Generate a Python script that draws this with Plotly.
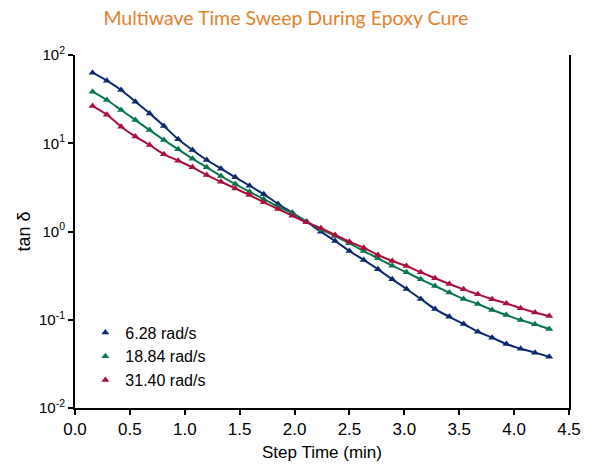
import plotly.graph_objects as go

time_min = [0.16, 0.29, 0.42, 0.55, 0.68, 0.81, 0.94, 1.07, 1.20, 1.33, 1.46,
            1.59, 1.72, 1.85, 1.98, 2.11, 2.24, 2.37, 2.50, 2.63, 2.76, 2.89,
            3.02, 3.15, 3.28, 3.41, 3.54, 3.67, 3.80, 3.93, 4.06, 4.19, 4.32]

tan_628 = [63, 51.2, 40.1, 29.6, 21.8, 15.7, 11.1, 8.39, 6.46, 5.15, 4.11,
           3.30, 2.64, 2.05, 1.63, 1.29, 0.995, 0.780, 0.601, 0.475, 0.373, 0.287,
           0.223, 0.172, 0.132, 0.108, 0.0895, 0.0732, 0.0626, 0.0531, 0.0470, 0.0424, 0.0381]
tan_1884 = [38.4, 30.9, 23.8, 18.3, 14.1, 10.9, 8.53, 6.68, 5.33, 4.25, 3.45,
            2.82, 2.32, 1.91, 1.61, 1.29, 1.06, 0.889, 0.735, 0.601, 0.497, 0.410,
            0.345, 0.287, 0.241, 0.203, 0.172, 0.151, 0.129, 0.113, 0.0993, 0.0888, 0.0785]
tan_3140 = [26.4, 21.1, 15.4, 11.9, 9.55, 7.5, 6.35, 5.33, 4.36, 3.66, 3.08,
            2.59, 2.14, 1.80, 1.51, 1.27, 1.09, 0.912, 0.766, 0.655, 0.542, 0.463,
            0.406, 0.345, 0.295, 0.254, 0.221, 0.194, 0.171, 0.153, 0.135, 0.121, 0.110]

series_names = ["6.28 rad/s", "18.84 rad/s", "31.40 rad/s"]
series_colors = ["#0c2a6e", "#0a7650", "#ad0f3b"]

y_tickvals = [0.01, 0.1, 1, 10, 100]
y_ticktext = ["10<sup>-2</sup>", "10<sup>-1</sup>", "10<sup>0</sup>", "10<sup>1</sup>", "10<sup>2</sup>"]
x_tickvals = [0.0, 0.5, 1.0, 1.5, 2.0, 2.5, 3.0, 3.5, 4.0, 4.5]

fig = go.Figure()
for name, ys, col in zip(series_names, [tan_628, tan_1884, tan_3140], series_colors):
    fig.add_trace(go.Scatter(x=time_min, y=ys, mode="lines", line=dict(color=col, width=2, shape="spline"),
                             showlegend=False, hoverinfo="skip"))
    fig.add_trace(go.Scatter(x=time_min, y=ys, mode="markers", name=name,
                             marker=dict(symbol="triangle-up", size=7, color=col)))

font_main = "Liberation Sans, Arial, sans-serif"
fig.update_layout(
    width=593, height=466,
    paper_bgcolor="white", plot_bgcolor="white",
    margin=dict(l=75, r=24, t=55, b=58),
    title=dict(text="Multiwave Time Sweep During Epoxy Cure", x=0.482, xanchor="center",
               y=0.962, yanchor="middle",
               font=dict(family="Lato, sans-serif", size=19.5, color="#e3822c")),
    font=dict(family=font_main, size=16, color="black"),
    xaxis=dict(range=[0, 4.5], tickvals=x_tickvals, tickformat=".1f", automargin=False,
               showline=True, linecolor="black", linewidth=2, mirror=False,
               ticks="outside", ticklen=5, tickwidth=1.5, tickcolor="black",
               showgrid=False, zeroline=False,
               title=dict(text="Step Time (min)", font=dict(size=17), standoff=8),
               tickfont=dict(size=17)),
    yaxis=dict(type="log", range=[-2, 2], tickvals=y_tickvals, ticktext=y_ticktext, automargin=False,
               showline=True, linecolor="black", linewidth=2, mirror=True,
               ticks="outside", ticklen=5, tickwidth=1.5, tickcolor="black",
               showgrid=False, zeroline=False,
               title=dict(text="tan δ", font=dict(size=18), standoff=4),
               tickfont=dict(size=15)),
    legend=dict(x=0.021, y=0.262, xanchor="left", yanchor="top", bgcolor="rgba(0,0,0,0)",
                font=dict(size=16), itemwidth=30, tracegroupgap=0),
)

fig.write_html("out.html", config={"displayModeBar": False},
               post_script="document.body.style.margin='0';")
